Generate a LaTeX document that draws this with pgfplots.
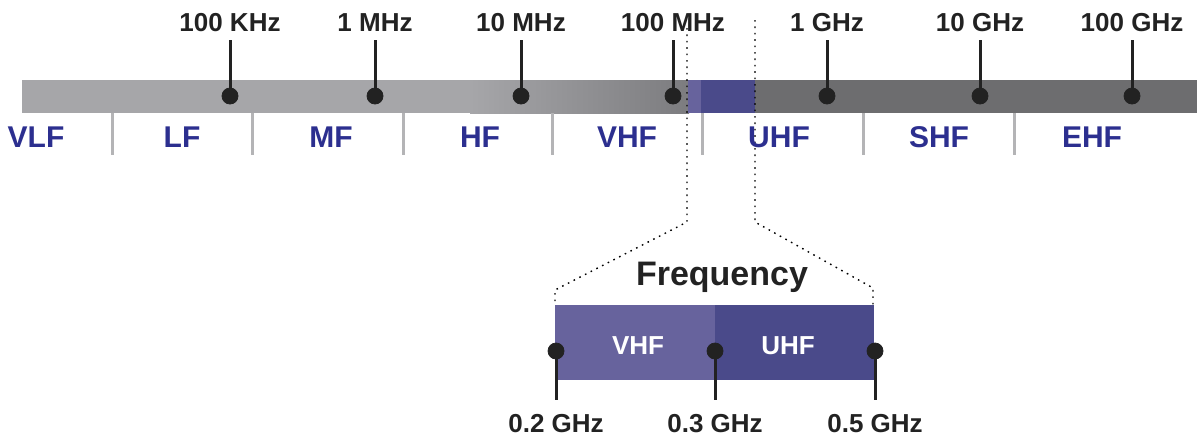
\documentclass[border=0pt]{standalone}
\usepackage{pgfplots}
\usepackage{pgfplotstable}
\usepackage{fontspec}
\setmainfont{Liberation Sans}
\pgfplotsset{compat=1.18}

\definecolor{barlight}{HTML}{A6A6A9}
\definecolor{barmid}{HTML}{7C7C7F}
\definecolor{bardark}{HTML}{6D6D6F}
\definecolor{vhfcol}{HTML}{67639D}
\definecolor{uhfcol}{HTML}{4A4A8A}
\definecolor{bandblue}{HTML}{2C2F8F}
\definecolor{sepgray}{HTML}{B4B4B6}
\definecolor{ink}{HTML}{222222}

% decade ticks on the main bar (pixel x)
\pgfplotstableread[col sep=comma]{
x,y,label
230,96,100 KHz
375,96,1 MHz
521,96,10 MHz
673,96,100 MHz
827,96,1 GHz
980,96,10 GHz
1132,96,100 GHz
}\decades

% band names below the bar
\pgfplotstableread[col sep=comma]{
x,y,label
36,147,VLF
182,147,LF
331,147,MF
480,147,HF
627,147,VHF
779,147,UHF
939,147,SHF
1092,147,EHF
}\bands

% zoomed frequencies
\pgfplotstableread[col sep=comma]{
x,y,label
556,351,0.2 GHz
715,351,0.3 GHz
875,351,0.5 GHz
}\zoomticks

\begin{document}
\begin{tikzpicture}
\begin{axis}[
    x=0.5pt, y=0.5pt,
    xmin=0, xmax=1197, ymin=0, ymax=439,
    y dir=reverse,
    hide axis,
    clip=false,
]
% frame the page
\addplot[draw=none] coordinates {(0,0) (1197,439)};

% main bar
\addplot[draw=none, fill=barlight] coordinates {(22,80) (471,80) (471,113) (22,113)} -- cycle;
\addplot[draw=none, left color=barlight, right color=barmid] coordinates {(470,80) (689,80) (689,113) (470,113)} -- cycle;
\addplot[draw=none, fill=bardark] coordinates {(754,80) (1197,80) (1197,113) (754,113)} -- cycle;
\addplot[draw=none, fill=vhfcol] coordinates {(688,80) (702,80) (702,113) (688,113)} -- cycle;
\addplot[draw=none, fill=uhfcol] coordinates {(701,80) (755,80) (755,113) (701,113)} -- cycle;

% band separators
\addplot[sepgray, line width=1.5pt, unbounded coords=jump] coordinates {
    (112,113) (112,155) (nan,nan)
    (252,113) (252,155) (nan,nan)
    (403,113) (403,155) (nan,nan)
    (552,113) (552,155) (nan,nan)
    (702,113) (702,155) (nan,nan)
    (863,113) (863,155) (nan,nan)
    (1014,113) (1014,155)
};

% zoom box
\addplot[draw=none, fill=vhfcol] coordinates {(555,305) (716,305) (716,380) (555,380)} -- cycle;
\addplot[draw=none, fill=uhfcol] coordinates {(715,305) (874,305) (874,380) (715,380)} -- cycle;

% dotted guides
\addplot[black, line width=0.7pt, dash pattern=on 0.8pt off 2.4pt]
    coordinates {(687,28) (687,222) (555,290) (555,305)};
\addplot[black, line width=0.7pt, dash pattern=on 0.8pt off 2.4pt]
    coordinates {(755,20) (755,222) (873,288) (873,305)};

% decade tick lines and dots
\addplot[ink, line width=1.5pt, unbounded coords=jump] coordinates {
    (230,40) (230,96) (nan,nan)
    (375,40) (375,96) (nan,nan)
    (521,40) (521,96) (nan,nan)
    (673,40) (673,96) (nan,nan)
    (827,40) (827,96) (nan,nan)
    (980,40) (980,96) (nan,nan)
    (1132,40) (1132,96)
};
\addplot[only marks, mark=*, mark size=4pt, ink,
    nodes near coords, point meta=explicit symbolic,
    nodes near coords style={anchor=base, yshift=32pt, text=ink,
        font=\fontsize{13}{15}\selectfont\bfseries}]
    table[x=x, y=y, meta=label] {\decades};

% band names
\addplot[only marks, mark=none,
    nodes near coords, point meta=explicit symbolic,
    nodes near coords style={anchor=base, inner sep=0pt, text=bandblue,
        font=\fontsize{15}{17}\selectfont\bfseries}]
    table[x=x, y=y, meta=label] {\bands};

% zoom tick lines and dots
\addplot[ink, line width=1.5pt, unbounded coords=jump] coordinates {
    (556,351) (556,400) (nan,nan)
    (715,351) (715,400) (nan,nan)
    (875,351) (875,400)
};
\addplot[only marks, mark=*, mark size=4pt, ink,
    nodes near coords, point meta=explicit symbolic,
    nodes near coords style={anchor=base, inner sep=0pt, yshift=-40.5pt, text=ink,
        font=\fontsize{13}{15}\selectfont\bfseries}]
    table[x=x, y=y, meta=label] {\zoomticks};

% titles in and above the box
\addplot[only marks, mark=none, nodes near coords, point meta=explicit symbolic,
    nodes near coords style={anchor=base, inner sep=0pt, text=white,
        font=\fontsize{13}{15}\selectfont\bfseries}]
    coordinates {(638,354) [VHF] (788,354) [UHF]};
\addplot[only marks, mark=none, nodes near coords, point meta=explicit symbolic,
    nodes near coords style={anchor=base, inner sep=0pt, text=ink,
        font=\fontsize{17}{20}\selectfont\bfseries}]
    coordinates {(722,285) [Frequency]};
\end{axis}
\end{tikzpicture}
\end{document}
